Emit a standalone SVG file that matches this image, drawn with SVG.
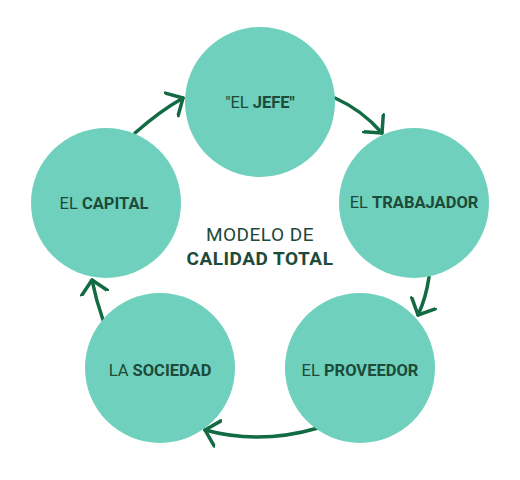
<svg xmlns="http://www.w3.org/2000/svg" width="520" height="480" viewBox="0 0 520 480">
  <style>
    .node { fill: #6fd1bd; }
    .lbl { font-family: Roboto, "Liberation Sans", sans-serif; font-size: 16.5px; fill: #1d4a39; text-anchor: middle; }
    .b { font-weight: 700; }
    .title { font-family: Roboto, "Liberation Sans", sans-serif; font-size: 19px; fill: #1d4a39; text-anchor: middle; letter-spacing: 0.5px; }
    .conn { fill: none; stroke: #136b43; stroke-width: 3.5; stroke-linecap: round; }
  </style>
  <defs>
    <marker id="arr" viewBox="0 0 30 30" refX="14" refY="15" markerWidth="30" markerHeight="30" markerUnits="userSpaceOnUse" orient="auto">
      <path d="M1,2 L14,15 L1,28" fill="none" stroke="#136b43" stroke-width="3.5" stroke-linecap="round" stroke-linejoin="round"/>
    </marker>
  </defs>
  <rect width="520" height="480" fill="#ffffff"/>
  <g id="connectors">
    <path class="conn" d="M135,133 Q160,111 183,98" marker-end="url(#arr)"/>
    <path class="conn" d="M335,98 Q362,110 382,133" marker-end="url(#arr)"/>
    <path class="conn" d="M429,277 Q426,298 418,315" marker-end="url(#arr)"/>
    <path class="conn" d="M318,428 Q260,445 205,430" marker-end="url(#arr)"/>
    <path class="conn" d="M103,320 Q96,300 92,280" marker-end="url(#arr)"/>
  </g>
  <g id="node-jefe">
    <circle class="node" cx="260" cy="102" r="75"/>
    <text class="lbl" x="260" y="108">"EL <tspan class="b">JEFE"</tspan></text>
  </g>
  <g id="node-trabajador">
    <circle class="node" cx="414" cy="203" r="75"/>
    <text class="lbl" x="414" y="208">EL <tspan class="b">TRABAJADOR</tspan></text>
  </g>
  <g id="node-proveedor">
    <circle class="node" cx="360" cy="368" r="75"/>
    <text class="lbl" x="360" y="376">EL <tspan class="b">PROVEEDOR</tspan></text>
  </g>
  <g id="node-sociedad">
    <circle class="node" cx="160" cy="368" r="75"/>
    <text class="lbl" x="160" y="376">LA <tspan class="b">SOCIEDAD</tspan></text>
  </g>
  <g id="node-capital">
    <circle class="node" cx="106" cy="203" r="75"/>
    <text class="lbl" x="104" y="209">EL <tspan class="b">CAPITAL</tspan></text>
  </g>
  <g id="center-title">
    <text class="title" x="260" y="241">MODELO DE</text>
    <text class="title b" x="260" y="265">CALIDAD TOTAL</text>
  </g>
</svg>
